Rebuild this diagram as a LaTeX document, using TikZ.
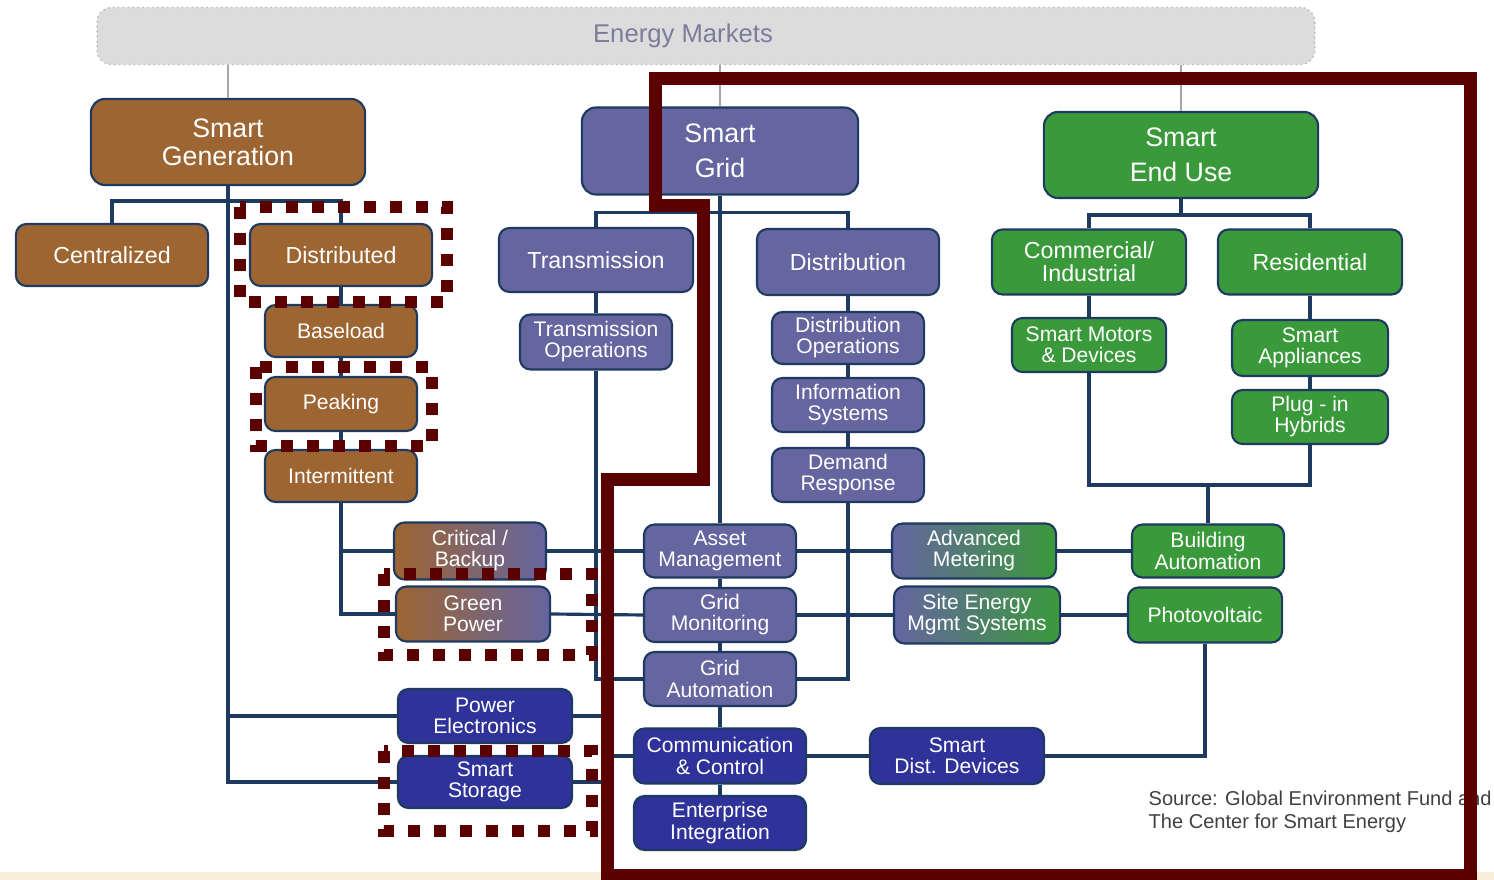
\documentclass[tikz,border=0pt]{standalone}
\usepackage{fontspec}
\setmainfont{Liberation Sans}
\definecolor{gencol}{HTML}{9C6532}
\definecolor{gridcol}{HTML}{6565A0}
\definecolor{usecol}{HTML}{3A993A}
\definecolor{devcol}{HTML}{2F3399}
\definecolor{linecol}{HTML}{1E3A60}
\definecolor{markcol}{HTML}{5A0000}
\definecolor{mktcol}{HTML}{DCDCDC}
\definecolor{mkttext}{HTML}{7C7C9C}
\definecolor{creamcol}{HTML}{F8EEDA}
\tikzstyle{box} = [rectangle, rounded corners=3pt, draw=linecol, line width=0.6pt, text=white, align=center, inner sep=1pt]
\tikzstyle{top} = [box, rounded corners=4pt, minimum width=2.74cm, minimum height=0.86cm, font=\fontsize{7.6}{8}\selectfont]
\tikzstyle{mid} = [box, minimum width=1.9cm, minimum height=0.64cm, font=\fontsize{6.6}{6.6}\selectfont]
\tikzstyle{sub} = [box, minimum width=1.52cm, minimum height=0.54cm, font=\fontsize{6}{6}\selectfont]
\tikzstyle{link} = [line width=0.9pt, draw=linecol]
\tikzstyle{feed} = [line width=0.4pt, draw=gray!70]
\tikzstyle{ring} = [line width=0.13cm, draw=markcol, line join=miter]
\tikzstyle{dots} = [line width=0.12cm, draw=markcol, dash pattern=on 0.12cm off 0.14cm]
\begin{document}
\begin{tikzpicture}[x=0.01cm, y=-0.01cm]
\useasboundingbox (0,0) rectangle (1494,880);
\fill [creamcol] (0,872) rectangle (1494,880);

%Energy Markets
\node (em) [rectangle, rounded corners=4pt, fill=mktcol, draw=gray!55, densely dotted, minimum width=12.17cm, minimum height=0.57cm, text=mkttext, font=\fontsize{7.3}{8}\selectfont] at (706,36) {Energy Markets\hspace*{0.46cm}};

%Smart Generation
\node (sgen) [top, fill=gencol] at (228,142) {Smart\\Generation};
\node (cent) [mid, fill=gencol, minimum width=1.92cm, minimum height=0.62cm] at (112,255) {Centralized};
\node (dist) [mid, fill=gencol, minimum width=1.82cm, minimum height=0.62cm] at (341,255) {Distributed};
\node (base) [sub, fill=gencol, minimum height=0.52cm] at (341,331) {Baseload};
\node (peak) [sub, fill=gencol] at (341,404) {Peaking};
\node (intm) [sub, fill=gencol, minimum height=0.52cm] at (341,476) {Intermittent};
\node (crit) [sub, left color=gencol, right color=gridcol, minimum height=0.57cm] at (470,551) {Critical /\\Backup};
\node (green) [sub, left color=gencol, right color=gridcol, minimum width=1.54cm, minimum height=0.55cm] at (473,614) {Green\\Power};
\node (pe) [sub, fill=devcol, minimum width=1.74cm] at (485,716) {Power\\Electronics};
\node (ss) [sub, fill=devcol, minimum width=1.74cm, minimum height=0.52cm] at (485,782) {Smart\\Storage};

\draw [link] (sgen.south) -- ++(0,15) -| (cent.north);
\draw [link] (sgen.south) ++(0,15) -| (dist.north);
\draw [link] (sgen.south) |- (pe.west);
\draw [link] (sgen.south) |- (ss.west);
\draw [link] (dist.south) -- (base.north);
\draw [link] (base.south) -- (peak.north);
\draw [link] (peak.south) -- (intm.north);
\draw [link] (intm.south) |- (crit.west);
\draw [link] (intm.south) |- (green.west);

%Smart Grid
\node (sgrid) [top, fill=gridcol, minimum width=2.76cm, minimum height=0.87cm, font=\fontsize{7.6}{10}\selectfont] at (720,151) {Smart\\Grid};
\node (trans) [mid, fill=gridcol, minimum width=1.94cm] at (596,260) {Transmission};
\node (tops) [sub, fill=gridcol, minimum height=0.55cm] at (596,342) {Transmission\\Operations};
\node (distr) [mid, fill=gridcol, minimum width=1.82cm, minimum height=0.66cm] at (848,262) {Distribution};
\node (dops) [sub, fill=gridcol, minimum height=0.52cm] at (848,338) {Distribution\\Operations};
\node (info) [sub, fill=gridcol] at (848,405) {Information\\Systems};
\node (dem) [sub, fill=gridcol] at (848,475) {Demand\\Response};
\node (asset) [sub, fill=gridcol, minimum height=0.53cm] at (720,551) {Asset\\Management};
\node (gmon) [sub, fill=gridcol] at (720,615) {Grid\\Monitoring};
\node (gauto) [sub, fill=gridcol] at (720,679) {Grid\\Automation};
\node (comm) [sub, fill=devcol, minimum width=1.72cm, minimum height=0.55cm] at (720,756) {Communication\\\& Control};
\node (ent) [sub, fill=devcol, minimum width=1.72cm] at (720,823) {Enterprise\\Integration};
\node (sdd) [sub, fill=devcol, minimum width=1.74cm, minimum height=0.56cm] at (957,756) {Smart\\Dist. Devices};
\coordinate (bus) at (606,756);

\draw [link] (sgrid.south) -- ++(0,17) -| (trans.north);
\draw [link] (sgrid.south) ++(0,17) -| (distr.north);
\draw [link] (sgrid.south) -- (asset.north);
\draw [link] (trans.south) -- (tops.north);
\draw [link] (tops.south) |- (gauto.west);
\draw [link] (distr.south) -- (dops.north);
\draw [link] (dops.south) -- (info.north);
\draw [link] (info.south) -- (dem.north);
\draw [link] (dem.south) |- (gauto.east);
\draw [link] (asset.south) -- (gmon.north);
\draw [link] (gmon.south) -- (gauto.north);
\draw [link] (gauto.south) -- (comm.north);
\draw [link] (comm.south) -- (ent.north);
\draw [link] (crit.east) -- (asset.west);
\draw [link] (green.east) -- (gmon.west);
\draw [link] (pe.east) -| (bus);
\draw [link] (ss.east) -| (bus);
\draw [link] (bus) -- (comm.west);
\draw [link] (comm.east) -- (sdd.west);

%Smart End Use
\node (seu) [top, fill=usecol, font=\fontsize{7.6}{10}\selectfont] at (1181,155) {Smart\\End Use};
\node (cind) [mid, fill=usecol, minimum width=1.94cm, minimum height=0.65cm] at (1089,262) {Commercial/\\Industrial};
\node (res) [mid, fill=usecol, minimum width=1.84cm, minimum height=0.65cm] at (1310,262) {Residential};
\node (motors) [sub, fill=usecol, minimum width=1.54cm] at (1089,345) {Smart Motors\\\& Devices};
\node (appl) [sub, fill=usecol, minimum width=1.56cm, minimum height=0.56cm] at (1310,348) {Smart\\Appliances};
\node (plug) [sub, fill=usecol, minimum width=1.56cm] at (1310,417) {Plug - in\\Hybrids};
\node (admet) [sub, left color=gridcol, right color=usecol, minimum width=1.64cm, minimum height=0.55cm] at (974,551) {Advanced\\Metering};
\node (sitee) [sub, left color=gridcol, right color=usecol, minimum width=1.66cm, minimum height=0.57cm] at (977,615) {Site Energy\\Mgmt Systems};
\node (bauto) [sub, fill=usecol, minimum height=0.53cm] at (1208,551) {Building\\Automation};
\node (pv) [sub, fill=usecol, minimum width=1.54cm, minimum height=0.55cm] at (1205,615) {Photovoltaic};
\coordinate (join) at (1208,485);

\draw [link] (seu.south) -- ++(0,16) -| (cind.north);
\draw [link] (seu.south) ++(0,16) -| (res.north);
\draw [link] (cind.south) -- (motors.north);
\draw [link] (res.south) -- (appl.north);
\draw [link] (appl.south) -- (plug.north);
\draw [link] (motors.south) |- (join) -| (plug.south);
\draw [link] (join) -- (bauto.north);
\draw [link] (asset.east) -- (admet.west);
\draw [link] (admet.east) -- (bauto.west);
\draw [link] (gmon.east) -- (sitee.west);
\draw [link] (sitee.east) -- (pv.west);
\draw [link] (sdd.east) -| (pv.south);

%Markets to pillars
\draw [feed] (em.south -| sgen.north) -- (sgen.north);
\draw [feed] (em.south -| sgrid.north) -- (sgrid.north);
\draw [feed] (em.south -| seu.north) -- (seu.north);

%Source
\node (src) [anchor=north west, align=left, inner sep=0pt, text=black!75, font=\fontsize{5.7}{6.6}\selectfont] at (1148,790) {Source: Global Environment Fund and\\The Center for Smart Energy};

%Highlights
\draw [dots] (240,207) rectangle (447,302);
\draw [dots] (256,367) rectangle (432,446);
\draw [dots] (384,574) rectangle (592,655);
\draw [dots] (384,751) rectangle (592,831);
\draw [ring] (655,79) -- (1470,79) -- (1470,876) -- (607,876) -- (607,480) -- (703,480) -- (703,206) -- (655,206) -- cycle;
\end{tikzpicture}
\end{document}
